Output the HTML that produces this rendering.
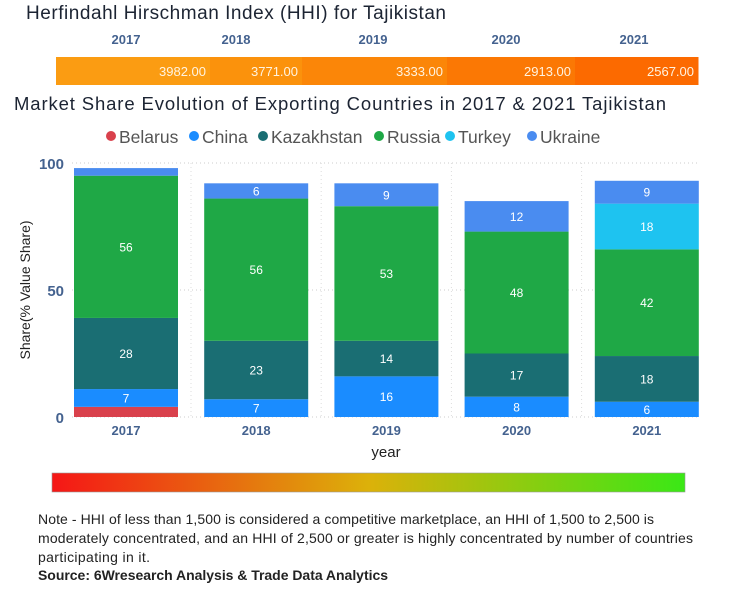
<!DOCTYPE html>
<html><head><meta charset="utf-8"><style>
body{margin:0;background:#fff;}
svg{display:block;font-family:"Liberation Sans",sans-serif;}
</style></head><body>
<svg id="c" width="753" height="600" viewBox="0 0 753 600">
<text x="26" y="19" font-size="19" fill="#1c2433" textLength="420">Herfindahl Hirschman Index (HHI) for Tajikistan</text>
<g id="hhi"></g>
<text x="14" y="110" font-size="18.5" fill="#1c2433" textLength="652">Market Share Evolution of Exporting Countries in 2017 &amp; 2021 Tajikistan</text>
<g id="legend"></g>
<g id="grid"></g>
<g id="yaxis"></g>
<g id="bars"></g>
<g id="xaxis"></g>
<text transform="translate(30,290) rotate(-90)" text-anchor="middle" font-size="14" fill="#222">Share(% Value Share)</text>
<text x="386" y="457" text-anchor="middle" font-size="15" fill="#222">year</text>
<defs><linearGradient id="gr" x1="0" x2="1"><stop offset="0" stop-color="#f51616"/><stop offset="0.5" stop-color="#dcb10a"/><stop offset="1" stop-color="#3ae816"/></linearGradient></defs>
<rect x="52" y="473" width="633" height="19" fill="url(#gr)" stroke="#999" stroke-width="0.6"/>
<g font-size="14" fill="#222">
<text x="38" y="524" textLength="616">Note - HHI of less than 1,500 is considered a competitive marketplace, an HHI of 1,500 to 2,500 is</text>
<text x="38" y="543" textLength="655">moderately concentrated, and an HHI of 2,500 or greater is highly concentrated by number of countries</text>
<text x="38" y="562" textLength="112">participating in it.</text>
<text x="38" y="580" font-weight="bold" textLength="350">Source: 6Wresearch Analysis &amp; Trade Data Analytics</text>
</g>
</svg>
<script>
const years=["2017","2018","2019","2020","2021"];
const hhiValues=[3982,3771,3333,2913,2567];
const seriesNames=["Belarus","China","Kazakhstan","Russia","Turkey","Ukraine"];
const belarus=[4,0,0,0,0];
const china=[7,7,16,8,6];
const kazakhstan=[28,23,14,17,18];
const russia=[56,56,53,48,42];
const turkey=[0,0,0,0,18];
const ukraine=[3,6,9,12,9];
const yTicks=[0,50,100];
const colors=["#d9414c","#1a8cff","#1a6e73","#1fa846","#1ec3f0","#4a8cf0"];
const series=[belarus,china,kazakhstan,russia,turkey,ukraine];
const NS="http://www.w3.org/2000/svg";
function mk(t,a,p,txt){const e=document.createElementNS(NS,t);for(const k in a)e.setAttribute(k,a[k]);if(txt!==undefined)e.textContent=txt;p.appendChild(e);return e;}
const y0=417,yTop=163;
function ys(v){return y0-(v/100)*(y0-yTop);}
function xc(i){return 126+i*130.2;}
const bw=104;
// HHI strip
const hhi=document.getElementById('hhi');
const segX=[56,210,302,447,575,698];
const hcol=["#fb9c12","#fb920c","#fb8608","#fb7804","#fc6a00"];
years.forEach((y,i)=>{
 const t=mk('text',{x:[126,236,373,506,634][i],y:44,'text-anchor':'middle','font-size':13,'font-weight':'bold',fill:'#44628f'},hhi,y);
 
 
 const r=mk('rect',{x:segX[i],y:57,width:segX[i+1]-segX[i]+0.5,height:28,fill:hcol[i]},hhi);
 
 
 const v=mk('text',{x:segX[i+1]-4,y:76,'text-anchor':'end','font-size':13,fill:'#fff3e0'},hhi,hhiValues[i].toFixed(2));
 
 
});
// legend
const lg=document.getElementById('legend');
const lx=[106,189,258,374,445,527];
seriesNames.forEach((n,i)=>{
 const g=mk('g',{},lg);
 
 
 mk('circle',{cx:lx[i]+5,cy:136,r:5,fill:colors[i]},g);
 mk('text',{x:lx[i]+13,y:143,'font-size':17.5,fill:'#555'},g,n);
});
// grid + y axis
const gr=document.getElementById('grid'),ya=document.getElementById('yaxis');
yTicks.forEach(t=>{
 const l=mk('line',{x1:72,x2:700,y1:ys(t),y2:ys(t),stroke:'#ccc','stroke-dasharray':'1,3'},gr);
 
 
 const tx=mk('text',{x:64,y:ys(t)+6,'text-anchor':'end','font-size':15,'font-weight':'bold',fill:'#44628f'},ya,String(t));
 
 
});
for(let i=0;i<4;i++){const l=mk('line',{x1:xc(i)+65,x2:xc(i)+65,y1:163,y2:417,stroke:'#ddd','stroke-dasharray':'1,3'},gr);
 
 }
// bars
const bars=document.getElementById('bars'),xa=document.getElementById('xaxis');
years.forEach((y,i)=>{
 let acc=0;
 series.forEach((s,k)=>{
  const v=s[i]; if(!v)return;
  const top=ys(acc+v),bot=ys(acc);
  const r=mk('rect',{x:xc(i)-bw/2,y:top,width:bw,height:bot-top,fill:colors[k]},bars);
  
  
  if(v>=5){const t=mk('text',{x:xc(i),y:(top+bot)/2+4.5,'text-anchor':'middle','font-size':12,fill:'#fff'},bars,String(v));
   
   }
  acc+=v;
 });
 const t=mk('text',{x:xc(i),y:435,'text-anchor':'middle','font-size':13,'font-weight':'bold',fill:'#44628f'},xa,y);
 
 
});
</script>
</body></html>
